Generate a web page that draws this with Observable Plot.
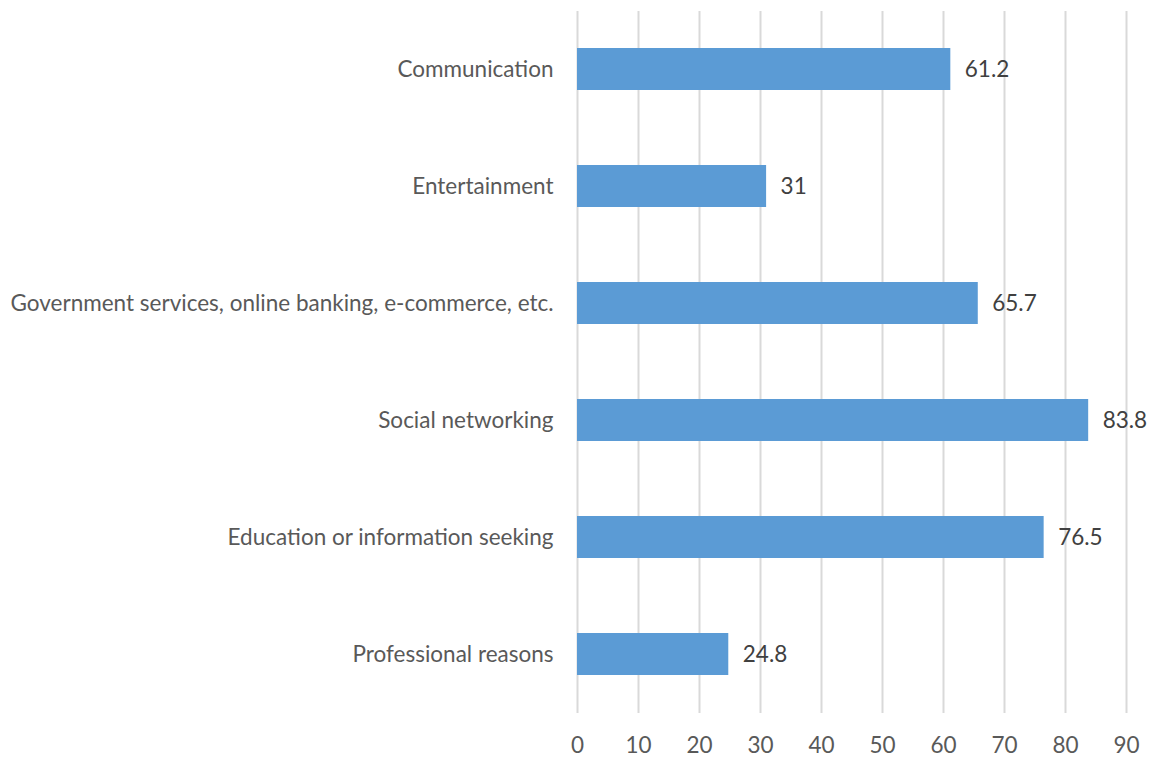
<!DOCTYPE html>
<html>
<head>
<meta charset="utf-8">
<script src="https://cdn.jsdelivr.net/npm/d3@7"></script>
<script src="https://cdn.jsdelivr.net/npm/@observablehq/plot@0.6"></script>
<style>
  html, body { margin: 0; padding: 0; background: #fff; }
  #chart { width: 1160px; height: 758px; }
  svg { font-family: Lato, "Open Sans", sans-serif; }
</style>
</head>
<body>
<div id="chart"></div>
<script>
const categories = [
  "Communication",
  "Entertainment",
  "Government services, online banking, e-commerce, etc.",
  "Social networking",
  "Education or information seeking",
  "Professional reasons"
];
const values = [61.2, 31, 65.7, 83.8, 76.5, 24.8];
const xTicks = [0, 10, 20, 30, 40, 50, 60, 70, 80, 90];

const data = categories.map((c, i) => ({category: c, value: values[i]}));

const chart = Plot.plot({
  width: 1160,
  height: 758,
  marginLeft: 577,
  marginRight: 34,
  marginTop: 11,
  marginBottom: 45,
  style: {fontSize: "22.5px", color: "#595959", background: "#fff"},
  x: {domain: [0, 90], ticks: xTicks, label: null},
  y: {domain: categories, label: null, paddingInner: 0.64, paddingOuter: 0.32},
  marks: [
    Plot.ruleX(xTicks, {stroke: "#d9d9d9", strokeWidth: 2}),
    Plot.barX(data, {x: "value", y: "category", fill: "#5b9bd5"}),
    Plot.text(data, {x: "value", y: "category", text: d => String(d.value), textAnchor: "start", dx: 14, fill: "#404040", fontSize: 22.5}),
    Plot.axisX({ticks: xTicks, tickSize: 0, tickPadding: 24, fontSize: 22.5, fill: "#595959", label: null}),
    Plot.axisY({tickSize: 0, tickPadding: 24, fontSize: 22.5, fill: "#595959", label: null})
  ]
});
document.getElementById("chart").appendChild(chart);
</script>
</body>
</html>
